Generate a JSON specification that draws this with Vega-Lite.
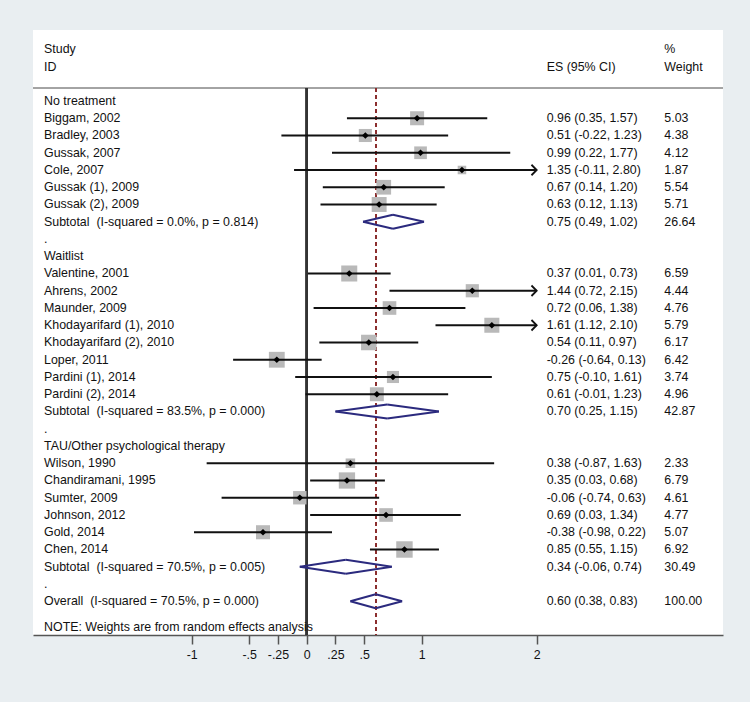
{
  "$schema": "https://vega.github.io/schema/vega-lite/v6.json",
  "width": 690,
  "height": 605,
  "autosize": {"type": "none"},
  "padding": {"left": 33, "top": 30, "right": 27, "bottom": 67},
  "background": "#e9eef1",
  "config": {
    "view": {"fill": "white", "stroke": null},
    "text": {"font": "Liberation Sans", "fontSize": 12.4, "color": "#111"},
    "axisX": {
      "title": null, "grid": false,
      "domainColor": "#555555", "domainWidth": 1.5,
      "tickColor": "#555555", "tickWidth": 1.5, "tickSize": 9,
      "labelFont": "Liberation Sans", "labelFontSize": 12.4, "labelColor": "#111111",
      "labelPadding": 4, "labelFlush": false, "labelOverlap": false
    }
  },
  "data": {
    "values": [
      {"kind": "head", "row": -3, "label": "Study", "wt_text": "%"},
      {"kind": "head", "row": -2, "label": "ID", "es_text": "ES (95% CI)", "wt_text": "Weight"},
      {"kind": "group", "row": 0, "label": "No treatment"},
      {"kind": "study", "row": 1, "label": "Biggam, 2002", "es": 0.96, "lo": 0.35, "hi": 1.57, "weight": 5.03, "es_text": "0.96 (0.35, 1.57)", "wt_text": "5.03"},
      {"kind": "study", "row": 2, "label": "Bradley, 2003", "es": 0.51, "lo": -0.22, "hi": 1.23, "weight": 4.38, "es_text": "0.51 (-0.22, 1.23)", "wt_text": "4.38"},
      {"kind": "study", "row": 3, "label": "Gussak, 2007", "es": 0.99, "lo": 0.22, "hi": 1.77, "weight": 4.12, "es_text": "0.99 (0.22, 1.77)", "wt_text": "4.12"},
      {"kind": "study", "row": 4, "label": "Cole, 2007", "es": 1.35, "lo": -0.11, "hi": 2.80, "weight": 1.87, "es_text": "1.35 (-0.11, 2.80)", "wt_text": "1.87"},
      {"kind": "study", "row": 5, "label": "Gussak (1), 2009", "es": 0.67, "lo": 0.14, "hi": 1.20, "weight": 5.54, "es_text": "0.67 (0.14, 1.20)", "wt_text": "5.54"},
      {"kind": "study", "row": 6, "label": "Gussak (2), 2009", "es": 0.63, "lo": 0.12, "hi": 1.13, "weight": 5.71, "es_text": "0.63 (0.12, 1.13)", "wt_text": "5.71"},
      {"kind": "subtotal", "row": 7, "label": "Subtotal\u00a0 (I-squared = 0.0%, p = 0.814)", "es": 0.75, "lo": 0.49, "hi": 1.02, "weight": 26.64, "es_text": "0.75 (0.49, 1.02)", "wt_text": "26.64"},
      {"kind": "dot", "row": 8, "label": "."},
      {"kind": "group", "row": 9, "label": "Waitlist"},
      {"kind": "study", "row": 10, "label": "Valentine, 2001", "es": 0.37, "lo": 0.01, "hi": 0.73, "weight": 6.59, "es_text": "0.37 (0.01, 0.73)", "wt_text": "6.59"},
      {"kind": "study", "row": 11, "label": "Ahrens, 2002", "es": 1.44, "lo": 0.72, "hi": 2.15, "weight": 4.44, "es_text": "1.44 (0.72, 2.15)", "wt_text": "4.44"},
      {"kind": "study", "row": 12, "label": "Maunder, 2009", "es": 0.72, "lo": 0.06, "hi": 1.38, "weight": 4.76, "es_text": "0.72 (0.06, 1.38)", "wt_text": "4.76"},
      {"kind": "study", "row": 13, "label": "Khodayarifard (1), 2010", "es": 1.61, "lo": 1.12, "hi": 2.10, "weight": 5.79, "es_text": "1.61 (1.12, 2.10)", "wt_text": "5.79"},
      {"kind": "study", "row": 14, "label": "Khodayarifard (2), 2010", "es": 0.54, "lo": 0.11, "hi": 0.97, "weight": 6.17, "es_text": "0.54 (0.11, 0.97)", "wt_text": "6.17"},
      {"kind": "study", "row": 15, "label": "Loper, 2011", "es": -0.26, "lo": -0.64, "hi": 0.13, "weight": 6.42, "es_text": "-0.26 (-0.64, 0.13)", "wt_text": "6.42"},
      {"kind": "study", "row": 16, "label": "Pardini (1), 2014", "es": 0.75, "lo": -0.10, "hi": 1.61, "weight": 3.74, "es_text": "0.75 (-0.10, 1.61)", "wt_text": "3.74"},
      {"kind": "study", "row": 17, "label": "Pardini (2), 2014", "es": 0.61, "lo": -0.01, "hi": 1.23, "weight": 4.96, "es_text": "0.61 (-0.01, 1.23)", "wt_text": "4.96"},
      {"kind": "subtotal", "row": 18, "label": "Subtotal\u00a0 (I-squared = 83.5%, p = 0.000)", "es": 0.70, "lo": 0.25, "hi": 1.15, "weight": 42.87, "es_text": "0.70 (0.25, 1.15)", "wt_text": "42.87"},
      {"kind": "dot", "row": 19, "label": "."},
      {"kind": "group", "row": 20, "label": "TAU/Other psychological therapy"},
      {"kind": "study", "row": 21, "label": "Wilson, 1990", "es": 0.38, "lo": -0.87, "hi": 1.63, "weight": 2.33, "es_text": "0.38 (-0.87, 1.63)", "wt_text": "2.33"},
      {"kind": "study", "row": 22, "label": "Chandiramani, 1995", "es": 0.35, "lo": 0.03, "hi": 0.68, "weight": 6.79, "es_text": "0.35 (0.03, 0.68)", "wt_text": "6.79"},
      {"kind": "study", "row": 23, "label": "Sumter, 2009", "es": -0.06, "lo": -0.74, "hi": 0.63, "weight": 4.61, "es_text": "-0.06 (-0.74, 0.63)", "wt_text": "4.61"},
      {"kind": "study", "row": 24, "label": "Johnson, 2012", "es": 0.69, "lo": 0.03, "hi": 1.34, "weight": 4.77, "es_text": "0.69 (0.03, 1.34)", "wt_text": "4.77"},
      {"kind": "study", "row": 25, "label": "Gold, 2014", "es": -0.38, "lo": -0.98, "hi": 0.22, "weight": 5.07, "es_text": "-0.38 (-0.98, 0.22)", "wt_text": "5.07"},
      {"kind": "study", "row": 26, "label": "Chen, 2014", "es": 0.85, "lo": 0.55, "hi": 1.15, "weight": 6.92, "es_text": "0.85 (0.55, 1.15)", "wt_text": "6.92"},
      {"kind": "subtotal", "row": 27, "label": "Subtotal\u00a0 (I-squared = 70.5%, p = 0.005)", "es": 0.34, "lo": -0.06, "hi": 0.74, "weight": 30.49, "es_text": "0.34 (-0.06, 0.74)", "wt_text": "30.49"},
      {"kind": "dot", "row": 28, "label": "."},
      {"kind": "subtotal", "row": 29, "label": "Overall\u00a0 (I-squared = 70.5%, p = 0.000)", "es": 0.60, "lo": 0.38, "hi": 0.83, "weight": 100.0, "es_text": "0.60 (0.38, 0.83)", "wt_text": "100.00"},
      {"kind": "note", "row": 30.5, "label": "NOTE: Weights are from random effects analysis"}
    ]
  },
  "layer": [
    {
      "mark": {"type": "rule", "color": "#a3a3a3", "strokeWidth": 1},
      "encoding": {
        "y": {"datum": -0.754, "type": "quantitative", "scale": {"domain": [-4.116, 30.957], "reverse": true, "nice": false, "zero": false}, "axis": null}
      }
    },
    {
      "mark": {"type": "rule", "color": "#333333", "strokeWidth": 1.5},
      "encoding": {
        "x": {"datum": 0, "type": "quantitative", "scale": {"domain": [-2.38, 3.62], "nice": false, "zero": false}, "axis": {"values": [-1, -0.5, -0.25, 0, 0.25, 0.5, 1, 2], "labelExpr": "(datum.value < 0 ? '-' : '') + replace(toString(abs(datum.value)), '0.', '.')", "title": null}},
        "y": {"datum": -0.754, "type": "quantitative", "scale": {"domain": [-4.116, 30.957], "reverse": true, "nice": false, "zero": false}, "axis": null},
        "y2": {"datum": 30.957}
      }
    },
    {
      "mark": {"type": "rule", "color": "#8c2f2f", "strokeWidth": 1.3, "strokeDash": [4, 3]},
      "encoding": {
        "x": {"datum": 0.60, "type": "quantitative", "scale": {"domain": [-2.38, 3.62], "nice": false, "zero": false}, "axis": {"values": [-1, -0.5, -0.25, 0, 0.25, 0.5, 1, 2], "labelExpr": "(datum.value < 0 ? '-' : '') + replace(toString(abs(datum.value)), '0.', '.')", "title": null}},
        "y": {"datum": -0.754, "type": "quantitative", "scale": {"domain": [-4.116, 30.957], "reverse": true, "nice": false, "zero": false}, "axis": null},
        "y2": {"datum": 30.957}
      }
    },
    {
      "transform": [{"filter": "datum.kind == 'study'"}],
      "mark": {"type": "point", "shape": "square", "filled": true, "color": "#b9b9b9", "opacity": 1, "strokeWidth": 0},
      "encoding": {
        "x": {"field": "es", "type": "quantitative", "scale": {"domain": [-2.38, 3.62], "nice": false, "zero": false}, "axis": {"values": [-1, -0.5, -0.25, 0, 0.25, 0.5, 1, 2], "labelExpr": "(datum.value < 0 ? '-' : '') + replace(toString(abs(datum.value)), '0.', '.')", "title": null}},
        "y": {"field": "row", "type": "quantitative", "scale": {"domain": [-4.116, 30.957], "reverse": true, "nice": false, "zero": false}, "axis": null},
        "size": {"field": "weight", "type": "quantitative", "scale": {"type": "linear", "domain": [0, 10], "range": [0, 390], "zero": true}, "legend": null}
      }
    },
    {
      "transform": [{"filter": "datum.kind == 'study' && datum.hi <= 2"}],
      "mark": {"type": "rule", "color": "#111111", "strokeWidth": 1.8},
      "encoding": {
        "x": {"field": "lo", "type": "quantitative", "scale": {"domain": [-2.38, 3.62], "nice": false, "zero": false}, "axis": {"values": [-1, -0.5, -0.25, 0, 0.25, 0.5, 1, 2], "labelExpr": "(datum.value < 0 ? '-' : '') + replace(toString(abs(datum.value)), '0.', '.')", "title": null}},
        "x2": {"field": "hi"},
        "y": {"field": "row", "type": "quantitative", "scale": {"domain": [-4.116, 30.957], "reverse": true, "nice": false, "zero": false}, "axis": null}
      }
    },
    {
      "transform": [{"filter": "datum.kind == 'study' && datum.hi > 2"}],
      "mark": {"type": "rule", "color": "#111111", "strokeWidth": 1.8},
      "encoding": {
        "x": {"field": "lo", "type": "quantitative", "scale": {"domain": [-2.38, 3.62], "nice": false, "zero": false}, "axis": {"values": [-1, -0.5, -0.25, 0, 0.25, 0.5, 1, 2], "labelExpr": "(datum.value < 0 ? '-' : '') + replace(toString(abs(datum.value)), '0.', '.')", "title": null}},
        "x2": {"datum": 2},
        "y": {"field": "row", "type": "quantitative", "scale": {"domain": [-4.116, 30.957], "reverse": true, "nice": false, "zero": false}, "axis": null}
      }
    },
    {
      "transform": [{"filter": "datum.kind == 'study' && datum.hi > 2"}],
      "mark": {"type": "point", "shape": "M-1,-1L0,0L-1,1", "filled": false, "color": "#111111", "strokeWidth": 1.8, "size": 110, "opacity": 1},
      "encoding": {
        "x": {"datum": 2, "type": "quantitative", "scale": {"domain": [-2.38, 3.62], "nice": false, "zero": false}, "axis": {"values": [-1, -0.5, -0.25, 0, 0.25, 0.5, 1, 2], "labelExpr": "(datum.value < 0 ? '-' : '') + replace(toString(abs(datum.value)), '0.', '.')", "title": null}},
        "y": {"field": "row", "type": "quantitative", "scale": {"domain": [-4.116, 30.957], "reverse": true, "nice": false, "zero": false}, "axis": null}
      }
    },
    {
      "transform": [{"filter": "datum.kind == 'study'"}],
      "mark": {"type": "point", "shape": "diamond", "filled": true, "color": "#000000", "size": 45, "opacity": 1, "strokeWidth": 0},
      "encoding": {
        "x": {"field": "es", "type": "quantitative", "scale": {"domain": [-2.38, 3.62], "nice": false, "zero": false}, "axis": {"values": [-1, -0.5, -0.25, 0, 0.25, 0.5, 1, 2], "labelExpr": "(datum.value < 0 ? '-' : '') + replace(toString(abs(datum.value)), '0.', '.')", "title": null}},
        "y": {"field": "row", "type": "quantitative", "scale": {"domain": [-4.116, 30.957], "reverse": true, "nice": false, "zero": false}, "axis": null}
      }
    },
    {
      "transform": [{"filter": "datum.kind == 'subtotal'"}],
      "mark": {"type": "rule", "color": "#2b2a7e", "strokeWidth": 2, "y2Offset": -7},
      "encoding": {
        "x": {"field": "lo", "type": "quantitative", "scale": {"domain": [-2.38, 3.62], "nice": false, "zero": false}, "axis": {"values": [-1, -0.5, -0.25, 0, 0.25, 0.5, 1, 2], "labelExpr": "(datum.value < 0 ? '-' : '') + replace(toString(abs(datum.value)), '0.', '.')", "title": null}},
        "x2": {"field": "es"},
        "y": {"field": "row", "type": "quantitative", "scale": {"domain": [-4.116, 30.957], "reverse": true, "nice": false, "zero": false}, "axis": null},
        "y2": {"field": "row"}
      }
    },
    {
      "transform": [{"filter": "datum.kind == 'subtotal'"}],
      "mark": {"type": "rule", "color": "#2b2a7e", "strokeWidth": 2, "y2Offset": 7},
      "encoding": {
        "x": {"field": "lo", "type": "quantitative", "scale": {"domain": [-2.38, 3.62], "nice": false, "zero": false}, "axis": {"values": [-1, -0.5, -0.25, 0, 0.25, 0.5, 1, 2], "labelExpr": "(datum.value < 0 ? '-' : '') + replace(toString(abs(datum.value)), '0.', '.')", "title": null}},
        "x2": {"field": "es"},
        "y": {"field": "row", "type": "quantitative", "scale": {"domain": [-4.116, 30.957], "reverse": true, "nice": false, "zero": false}, "axis": null},
        "y2": {"field": "row"}
      }
    },
    {
      "transform": [{"filter": "datum.kind == 'subtotal'"}],
      "mark": {"type": "rule", "color": "#2b2a7e", "strokeWidth": 2, "yOffset": -7},
      "encoding": {
        "x": {"field": "es", "type": "quantitative", "scale": {"domain": [-2.38, 3.62], "nice": false, "zero": false}, "axis": {"values": [-1, -0.5, -0.25, 0, 0.25, 0.5, 1, 2], "labelExpr": "(datum.value < 0 ? '-' : '') + replace(toString(abs(datum.value)), '0.', '.')", "title": null}},
        "x2": {"field": "hi"},
        "y": {"field": "row", "type": "quantitative", "scale": {"domain": [-4.116, 30.957], "reverse": true, "nice": false, "zero": false}, "axis": null},
        "y2": {"field": "row"}
      }
    },
    {
      "transform": [{"filter": "datum.kind == 'subtotal'"}],
      "mark": {"type": "rule", "color": "#2b2a7e", "strokeWidth": 2, "yOffset": 7},
      "encoding": {
        "x": {"field": "es", "type": "quantitative", "scale": {"domain": [-2.38, 3.62], "nice": false, "zero": false}, "axis": {"values": [-1, -0.5, -0.25, 0, 0.25, 0.5, 1, 2], "labelExpr": "(datum.value < 0 ? '-' : '') + replace(toString(abs(datum.value)), '0.', '.')", "title": null}},
        "x2": {"field": "hi"},
        "y": {"field": "row", "type": "quantitative", "scale": {"domain": [-4.116, 30.957], "reverse": true, "nice": false, "zero": false}, "axis": null},
        "y2": {"field": "row"}
      }
    },
    {
      "transform": [{"filter": "isValid(datum.label)"}],
      "mark": {"type": "text", "align": "left", "baseline": "middle"},
      "encoding": {
        "x": {"datum": -2.284, "type": "quantitative", "scale": {"domain": [-2.38, 3.62], "nice": false, "zero": false}, "axis": {"values": [-1, -0.5, -0.25, 0, 0.25, 0.5, 1, 2], "labelExpr": "(datum.value < 0 ? '-' : '') + replace(toString(abs(datum.value)), '0.', '.')", "title": null}},
        "y": {"field": "row", "type": "quantitative", "scale": {"domain": [-4.116, 30.957], "reverse": true, "nice": false, "zero": false}, "axis": null},
        "text": {"field": "label"}
      }
    },
    {
      "transform": [{"filter": "isValid(datum.es_text)"}],
      "mark": {"type": "text", "align": "left", "baseline": "middle"},
      "encoding": {
        "x": {"datum": 2.087, "type": "quantitative", "scale": {"domain": [-2.38, 3.62], "nice": false, "zero": false}, "axis": {"values": [-1, -0.5, -0.25, 0, 0.25, 0.5, 1, 2], "labelExpr": "(datum.value < 0 ? '-' : '') + replace(toString(abs(datum.value)), '0.', '.')", "title": null}},
        "y": {"field": "row", "type": "quantitative", "scale": {"domain": [-4.116, 30.957], "reverse": true, "nice": false, "zero": false}, "axis": null},
        "text": {"field": "es_text"}
      }
    },
    {
      "transform": [{"filter": "isValid(datum.wt_text)"}],
      "mark": {"type": "text", "align": "left", "baseline": "middle"},
      "encoding": {
        "x": {"datum": 3.11, "type": "quantitative", "scale": {"domain": [-2.38, 3.62], "nice": false, "zero": false}, "axis": {"values": [-1, -0.5, -0.25, 0, 0.25, 0.5, 1, 2], "labelExpr": "(datum.value < 0 ? '-' : '') + replace(toString(abs(datum.value)), '0.', '.')", "title": null}},
        "y": {"field": "row", "type": "quantitative", "scale": {"domain": [-4.116, 30.957], "reverse": true, "nice": false, "zero": false}, "axis": null},
        "text": {"field": "wt_text"}
      }
    }
  ]
}
